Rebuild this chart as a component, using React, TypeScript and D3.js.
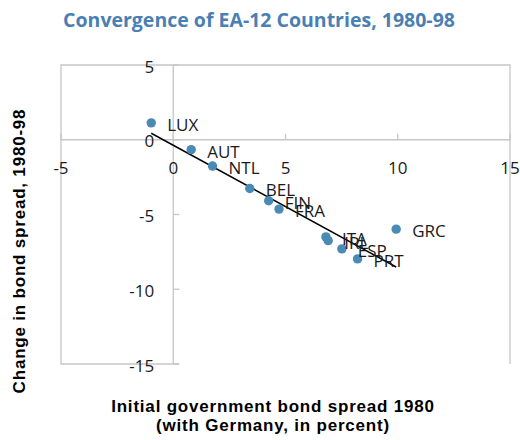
import React from "react";
import * as d3 from "d3";

const countries = ["LUX", "AUT", "NTL", "BEL", "FIN", "FRA", "ITA", "IRL", "ESP", "PRT", "GRC"];
const initialSpread = [-0.98, 0.8, 1.75, 3.41, 4.25, 4.71, 6.8, 6.9, 7.51, 8.21, 9.93];
const changeSpread = [1.13, -0.66, -1.76, -3.26, -4.08, -4.64, -6.5, -6.75, -7.3, -7.97, -5.98];
const xTicks = [-5, 0, 5, 10, 15];
const yTicks = [5, 0, -5, -10, -15];

const W = 520;
const H = 440;

export default function App() {
  const x = d3.scaleLinear().domain([-5, 15]).range([61, 510]);
  const y = d3.scaleLinear().domain([-15, 5]).range([364, 65]);

  // least-squares trend line
  const mx = d3.mean(initialSpread) as number;
  const my = d3.mean(changeSpread) as number;
  let sxy = 0;
  let sxx = 0;
  initialSpread.forEach((v, i) => {
    sxy += (v - mx) * (changeSpread[i] - my);
    sxx += (v - mx) * (v - mx);
  });
  const slope = sxy / sxx;
  const intercept = my - slope * mx;
  const [x0, x1] = d3.extent(initialSpread) as [number, number];
  const trend = d3.line<number>()
    .x((d) => x(d))
    .y((d) => y(intercept + slope * d));

  const grid = "#c6c6c6";
  const dotColor = "#4a8ab4";
  const labelFont = "'Open Sans', 'Noto Sans', sans-serif";
  const titleFont = "'Liberation Sans', Arial, sans-serif";

  return (
    <svg
      width={W}
      height={H}
      style={{ position: "absolute", left: 0, top: 0, background: "#fff" }}
    >
      <text
        x={259}
        y={27}
        textAnchor="middle"
        fontFamily={labelFont}
        fontWeight="bold"
        fontSize={19.5}
        fill="#4a7fb3"
      >
        Convergence of EA-12 Countries, 1980-98
      </text>

      {/* plot frame: left, top, right; bottom only up to the axis tick */}
      <path
        d={`M${x(0) + 6},${y(-15)}H${x(-5)}V${y(5)}H${x(15)}V${y(-15)}`}
        fill="none"
        stroke={grid}
        strokeWidth={1.3}
      />
      {/* axes through zero */}
      <line x1={x(-5)} x2={x(15)} y1={y(0)} y2={y(0)} stroke={grid} strokeWidth={1.3} />
      <line x1={x(0)} x2={x(0)} y1={y(5)} y2={y(-15)} stroke={grid} strokeWidth={1.3} />
      {xTicks.map((t) => (
        <line key={"xt" + t} x1={x(t)} x2={x(t)} y1={y(0)} y2={y(0) - 6} stroke={grid} strokeWidth={1.3} />
      ))}
      {yTicks.map((t) => (
        <line key={"yt" + t} x1={x(0)} x2={x(0) + 6} y1={y(t)} y2={y(t)} stroke={grid} strokeWidth={1.3} />
      ))}

      {xTicks.map((t) => (
        <text
          key={"xl" + t}
          x={x(t)}
          y={y(0) + 28}
          textAnchor="middle"
          dominantBaseline="central"
          fontFamily={labelFont}
          fontSize={17}
          fill="#1a1a1a"
        >
          {t}
        </text>
      ))}
      {yTicks.map((t) => (
        <text
          key={"yl" + t}
          x={x(0) - 19}
          y={y(t) + 1}
          textAnchor="end"
          dominantBaseline="central"
          fontFamily={labelFont}
          fontSize={17}
          fill="#1a1a1a"
        >
          {t}
        </text>
      ))}

      <path d={trend([x0, x1]) || ""} stroke="#000" strokeWidth={1.5} fill="none" />

      {countries.map((c, i) => (
        <circle key={"p" + c} cx={x(initialSpread[i])} cy={y(changeSpread[i])} r={4.7} fill={dotColor} />
      ))}
      {countries.map((c, i) => (
        <text
          key={"l" + c}
          x={x(initialSpread[i]) + 16}
          y={y(changeSpread[i]) + 1.5}
          dominantBaseline="central"
          fontFamily={labelFont}
          fontSize={17}
          fill="#1a1a1a"
        >
          {c}
        </text>
      ))}

      <text
        transform={`translate(19,251) rotate(-90)`}
        textAnchor="middle"
        dominantBaseline="central"
        fontFamily={titleFont}
        fontWeight="bold"
        fontSize={17}
        letterSpacing={0.8}
        fill="#000"
      >
        Change in bond spread, 1980-98
      </text>
      <text
        x={273}
        y={412}
        textAnchor="middle"
        fontFamily={titleFont}
        fontWeight="bold"
        fontSize={17}
        letterSpacing={0.8}
        fill="#000"
      >
        Initial government bond spread 1980
      </text>
      <text
        x={273}
        y={431}
        textAnchor="middle"
        fontFamily={titleFont}
        fontWeight="bold"
        fontSize={17}
        letterSpacing={0.8}
        fill="#000"
      >
        (with Germany, in percent)
      </text>
    </svg>
  );
}
